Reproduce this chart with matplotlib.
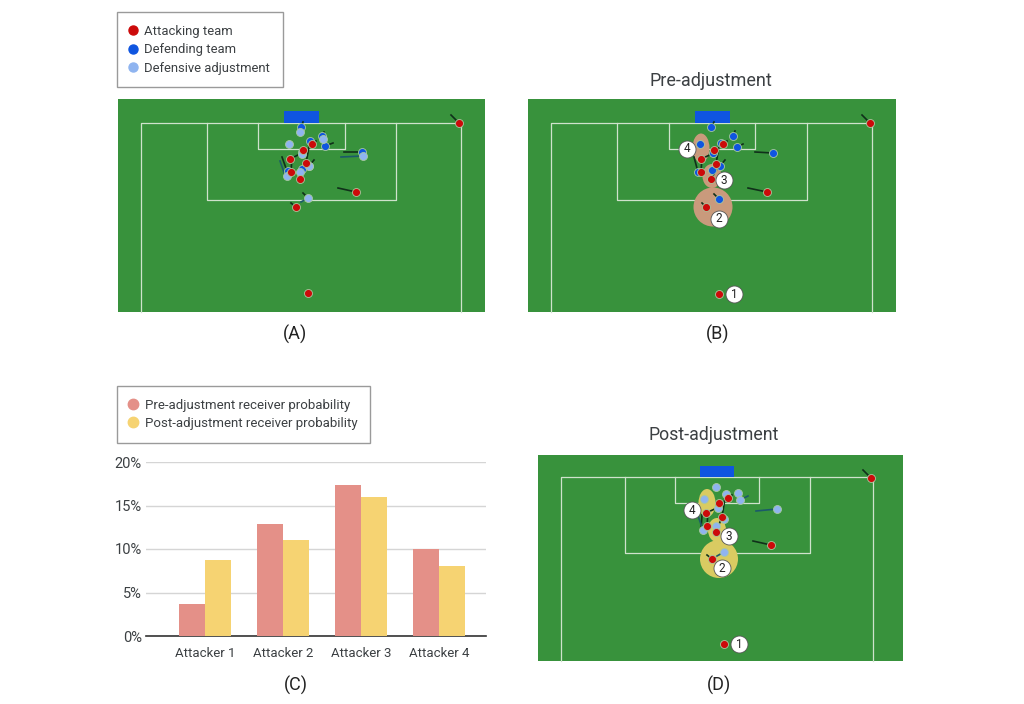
import matplotlib
matplotlib.use('Agg')
import matplotlib.pyplot as plt
from matplotlib.lines import Line2D
from matplotlib.patches import Rectangle, Ellipse

plt.rcParams['font.family'] = ['Roboto', 'DejaVu Sans']

GREEN = '#38923c'
RED = '#cc0a0a'
BLUE = '#0f55e0'
LIGHT = '#8fb4f0'
TEXT = '#3c4043'
PRE = '#e49088'
POST = '#f6d372'
BLOB_PRE = '#c99a7c'
BLOB_POST = '#d9cb62'

# everything on the pitches is in image pixels
a_attack = [(312,144),(303,150),(290,159),(306,163),(291,172),(300,179),(356,192),(296,207),(459,123),(308,293)]
a_defend = [(301,127),(310,141),(322,136),(325,146),(362,152),(302,169),(309,166),(288,171),(302,152)]
a_adjust = [(300,132),(289,144),(323,139),(363,156),(302,154),(300,172),(287,176),(308,198),(309,166)]
a_moves = [(356,192,338,188),(459,123,451,115),(362,152,344,152),(282,157,287,171),(291,172,292,157),
           (306,163,309,147),(290,159,302,153),(325,146,333,143),(301,127,303,122),(322,136,324,132),
           (309,166,314,160),(300,179,306,169),(296,207,291,203),(312,144,316,141),(308,198,303,193)]
a_moves_teal = [(363,156,341,157),(280,161,285,175),(308,198,301,202)]

b_attack = [(723,144),(714,150),(701,159),(716,164),(701,172),(711,179),(767,192),(706,207),(870,123),(719,294)]
b_defend = [(711,127),(733,136),(737,147),(773,153),(700,144),(721,143),(713,153),(698,172),(712,170),(720,166),(719,199)]
b_moves = [(767,192,748,188),(870,123,862,115),(773,153,755,152),(694,157,698,172),(701,172,702,157),
           (716,164,719,146),(701,159,714,153),(737,147,743,144),(711,127,714,122),(733,136,735,131),
           (720,166,725,160),(711,179,717,169),(706,207,702,203),(723,144,727,141),(719,199,714,194)]
b_blobs = [(713,207,39,39),(712,176,19,24),(701,148,17,29)]
b_labels = [('1',734,294),('2',719,219),('3',724,180),('4',687,149)]

d_attack = [(728,498),(719,503),(706,513),(722,517),(707,526),(716,532),(771,545),(712,559),(871,478),(724,644)]
d_adjust = [(716,487),(726,494),(738,493),(740,500),(777,509),(704,499),(718,508),(724,519),(716,526),(703,530),(724,552)]
d_moves = [(771,545,753,541),(871,478,863,470),(702,515,701,530),(707,526,708,512),
           (722,517,725,498),(706,513,719,507),(716,532,722,517),(712,559,707,555),(728,498,732,495)]
d_moves_teal = [(777,509,756,511),(697,513,703,530),(740,500,748,496),(724,552,717,556)]
d_blobs = [(719,559,38,38),(717,530,18,24),(707,503,17,28)]
d_labels = [('1',739,644),('2',722,568),('3',729,536),('4',692,510)]

attackers = ['Attacker 1', 'Attacker 2', 'Attacker 3', 'Attacker 4']
pre_prob = [3.7, 12.9, 17.4, 10.0]
post_prob = [8.7, 11.0, 16.0, 8.0]
prob_ticks = [0, 5, 10, 15, 20]

fig = plt.figure(figsize=(10.24, 7.04), dpi=100, facecolor='white')
ax = fig.add_axes([0, 0, 1, 1])
ax.set_xlim(0, 1024)
ax.set_ylim(704, 0)
ax.axis('off')


def draw_pitch(left, right, top, bottom, touch_l, touch_r, goal_y, box_l, box_r, box_b,
               six_l, six_r, six_b, goal_l, goal_r, goal_t):
    ax.add_patch(Rectangle((left, top), right-left, bottom-top, fc=GREEN, ec='none', zorder=1))
    w = '#cfe2cc'
    ax.plot([touch_l, touch_l, touch_r, touch_r], [bottom, goal_y, goal_y, bottom], color=w, lw=0.9, zorder=2)
    ax.plot([box_l, box_l, box_r, box_r], [goal_y, box_b, box_b, goal_y], color=w, lw=0.9, zorder=2)
    ax.plot([six_l, six_l, six_r, six_r], [goal_y, six_b, six_b, goal_y], color=w, lw=0.9, zorder=2)
    ax.add_patch(Rectangle((goal_l, goal_t), goal_r-goal_l, goal_y-goal_t, fc=BLUE, ec='none', zorder=2))


def draw_players(points, colour, z):
    xs = [p[0] for p in points]
    ys = [p[1] for p in points]
    ax.scatter(xs, ys, s=33, c=colour, edgecolors='#a9c9a0', linewidths=0.6, zorder=z)


def draw_moves(moves, colour='#10301a'):
    for x0, y0, x1, y1 in moves:
        ax.plot([x0, x1], [y0, y1], color=colour, lw=1.2, zorder=3)


def draw_blobs(blobs, colour):
    for x, y, w, h in blobs:
        ax.add_patch(Ellipse((x, y), w, h, fc=colour, ec='none', zorder=2.5))


def draw_labels(labels):
    for t, x, y in labels:
        ax.scatter([x], [y], s=150, c='white', edgecolors='#555555', linewidths=0.6, zorder=7)
        ax.text(x, y, t, ha='center', va='center', fontsize=8.5, color='#222222', zorder=8)


# panel A
draw_pitch(118, 485, 99, 312, 141, 461, 123, 207, 396, 200, 258, 345, 149, 284, 319, 111)
draw_moves(a_moves)
draw_moves(a_moves_teal, '#1b5a6a')
draw_players(a_defend, BLUE, 4)
draw_players(a_adjust, LIGHT, 5)
draw_players(a_attack, RED, 6)

# panel B
draw_pitch(528, 896, 99, 312, 551, 872, 123, 617, 807, 200, 669, 755, 149, 695, 730, 111)
draw_blobs(b_blobs, BLOB_PRE)
draw_moves(b_moves)
draw_players(b_defend, BLUE, 4)
draw_players(b_attack, RED, 6)
draw_labels(b_labels)

# panel D
draw_pitch(538, 903, 455, 661, 561, 873, 477, 625, 810, 553, 675, 759, 503, 700, 734, 466)
draw_blobs(d_blobs, BLOB_POST)
draw_moves(d_moves)
draw_moves(d_moves_teal, '#1b5a6a')
draw_players(d_adjust, LIGHT, 5)
draw_players(d_attack, RED, 6)
draw_labels(d_labels)

# titles and letters
ax.text(711, 81, 'Pre-adjustment', ha='center', va='center', fontsize=13, color=TEXT)
ax.text(714, 435, 'Post-adjustment', ha='center', va='center', fontsize=12.8, color=TEXT)
ax.text(295, 334, '(A)', ha='center', va='center', fontsize=13, color='#222222')
ax.text(718, 334, '(B)', ha='center', va='center', fontsize=13, color='#222222')
ax.text(296, 685, '(C)', ha='center', va='center', fontsize=13, color='#222222')
ax.text(719, 685, '(D)', ha='center', va='center', fontsize=13, color='#222222')

# legends
marker_handles = [Line2D([], [], ls='none', marker='o', ms=6.5, color=c) for c in (RED, BLUE, LIGHT)]
leg_a = ax.legend(marker_handles, ['Attacking team', 'Defending team', 'Defensive adjustment'],
                  loc='upper left', bbox_to_anchor=(117, 12), bbox_transform=ax.transData,
                  fontsize=9.35, frameon=True, fancybox=False, edgecolor='#9a9a9a', framealpha=1,
                  labelspacing=0.42, handletextpad=0.6, handlelength=0.5, borderpad=0.98, borderaxespad=0,
                  labelcolor=TEXT)
leg_a.get_frame().set_linewidth(1.0)
ax.add_artist(leg_a)
prob_handles = [Line2D([], [], ls='none', marker='o', ms=7.5, color=c) for c in (PRE, POST)]
leg_c = ax.legend(prob_handles, ['Pre-adjustment receiver probability', 'Post-adjustment receiver probability'],
                  loc='upper left', bbox_to_anchor=(117, 386), bbox_transform=ax.transData,
                  fontsize=9.5, frameon=True, fancybox=False, edgecolor='#9a9a9a', framealpha=1,
                  labelspacing=0.42, handletextpad=0.6, handlelength=0.55, borderpad=0.95, borderaxespad=0,
                  labelcolor=TEXT)
leg_c.get_frame().set_linewidth(1.0)

# bar chart, panel C
bar_ax = fig.add_axes([146/1024, 1-636/704, (486-146)/1024, (636-462)/704])
bar_ax.patch.set_alpha(0)
pos = list(range(len(attackers)))
bar_ax.bar([p-1/6 for p in pos], pre_prob, width=1/3, color=PRE, zorder=3)
bar_ax.bar([p+1/6 for p in pos], post_prob, width=1/3, color=POST, zorder=3)
bar_ax.set_xlim(-0.756, 3.6)
bar_ax.set_ylim(0, 20)
bar_ax.set_xticks(pos)
bar_ax.set_xticklabels(attackers, fontsize=9.5, color=TEXT)
bar_ax.set_yticks(prob_ticks)
bar_ax.set_yticklabels([f'{t}%' for t in prob_ticks], fontsize=10.5, color=TEXT)
bar_ax.tick_params(axis='x', length=0, pad=8)
bar_ax.tick_params(axis='y', length=0, pad=3)
bar_ax.grid(axis='y', color='#d5d5d5', lw=1, zorder=0)
for s in ['top', 'left', 'right']:
    bar_ax.spines[s].set_visible(False)
bar_ax.spines['bottom'].set_color('#333333')
bar_ax.spines['bottom'].set_linewidth(1.2)

fig.savefig('out.png', dpi=100)
